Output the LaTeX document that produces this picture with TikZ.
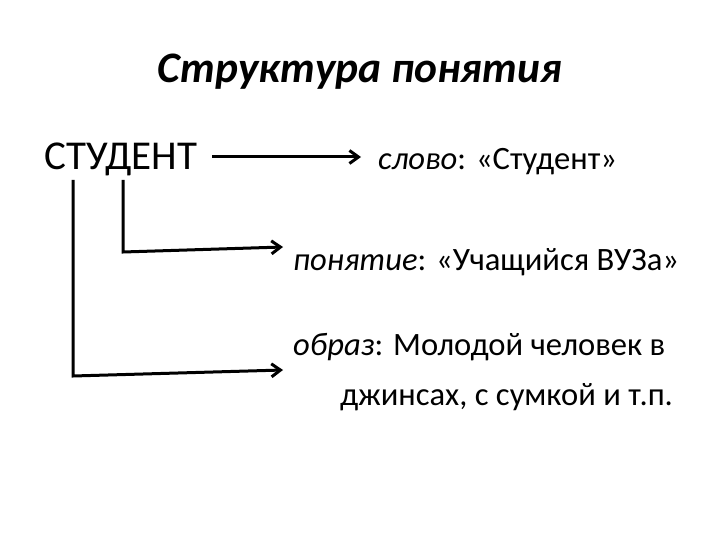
\documentclass[tikz,border=0pt]{standalone}
\usepackage{fontspec}
\setmainfont{Carlito}
\usetikzlibrary{arrows.meta}
\tikzset{
  txt/.style={inner sep=0pt, anchor=base west, font=\fontsize{32.6}{38}\selectfont},
  conn/.style={line width=3pt, -{Straight Barb[length=9pt,width=13pt,line width=3pt]}},
  plain/.style={line width=3pt}
}
\begin{document}
\begin{tikzpicture}[x=1pt,y=-1pt]
\useasboundingbox (0,0) rectangle (720,540);
\node[inner sep=0pt, anchor=base, font=\fontsize{43.5}{48}\selectfont\bfseries\itshape] (title) at (360,83) {Структура понятия};
\node[txt, font=\fontsize{41}{46}\selectfont] (student) at (44,170) {СТУДЕНТ};
\node[txt] (slovo) at (378,170) {\textit{слово}: «Студент»};
\node[txt] (ponyatie) at (293,270) {\textit{понятие}: «Учащийся ВУЗа»};
\node[txt] (obraz) at (293,355) {\textit{образ}: Молодой человек в};
\node[txt] (obraz2) at (340,405) {джинсах, с сумкой и т.п.};
\coordinate (a1s) at (212,157);
\coordinate (a1e) at (361,157);
\coordinate (b1) at (123,180);
\coordinate (b2) at (123,252);
\coordinate (b3) at (283,247);
\coordinate (c1) at (73,180);
\coordinate (c2) at (73,376);
\coordinate (c3) at (283,370);
\draw[conn] (a1s) -- (a1e);
\draw[conn, line join=miter] (b1) -- (b2) -- (b3);
\draw[conn, line join=miter] (c1) -- (c2) -- (c3);
\end{tikzpicture}
\end{document}
